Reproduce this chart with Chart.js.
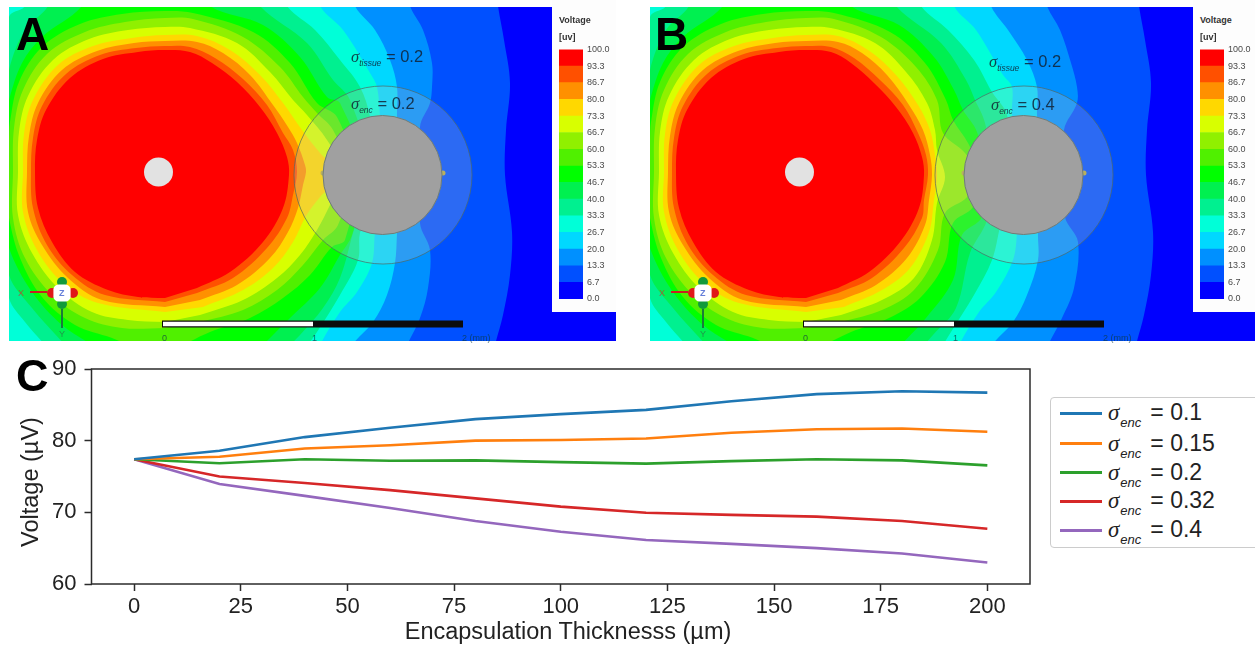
<!DOCTYPE html>
<html>
<head>
<meta charset="utf-8">
<title>Voltage</title>
<script src="https://cdn.jsdelivr.net/npm/chart.js@4/dist/chart.umd.js"></script>
<style>
  html, body { margin: 0; padding: 0; background: #fff; overflow: hidden; }
  body { width: 1255px; height: 647px; position: relative; font-family: "Liberation Sans", Arial, sans-serif; }
  canvas { position: absolute; display: block; }
  .map { background: #0000ff; filter: blur(0.5px); }
  .t { position: absolute; white-space: nowrap; line-height: 1; }
  .letter { font-weight: bold; font-size: 46px; color: #000; }
  .box { position: absolute; background: #fdfdfd; }
  .cond { font-size: 16.5px; color: #123; opacity: .85; }
  .cond i, .leg i { font-family: "Liberation Serif", serif; }
  .cond sub { font-size: 8.5px; font-style: italic; vertical-align: -4px; }
  .cb { font-size: 9px; font-weight: bold; color: #333; }
  .sb { font-size: 9px; color: #0b3b45; opacity: .75; }
  .legend-box { position: absolute; left: 1050px; top: 397px; width: 230px; height: 151px; box-sizing: border-box; border: 1px solid #ccc; border-radius: 4px; }
  .swatch { position: absolute; left: 1060px; width: 42px; height: 3px; }
  .leg { font-size: 23px; color: #222; }
  .leg sub { font-size: 13px; font-style: italic; vertical-align: -7px; margin-left: 1px; margin-right: 9px; }
  .axis-title { font-size: 23.5px; color: #222; }
</style>
</head>
<body>
<canvas id="mapA" class="map" width="607" height="334" style="left:9px;top:7px"></canvas>
<canvas id="mapB" class="map" width="605" height="334" style="left:650px;top:7px"></canvas>

<div class="box" style="left:552px;top:0;width:64px;height:312px"></div>
<div class="box" style="left:1193px;top:0;width:62px;height:312px"></div>
<canvas id="barA" width="64" height="270" style="left:552px;top:40px"></canvas>
<canvas id="barB" width="62" height="270" style="left:1193px;top:40px"></canvas>
<canvas id="lines" width="1040" height="297" style="left:0;top:350px"></canvas>

<div class="t letter" style="left:16px;top:11px">A</div>
<div class="t letter" style="left:655px;top:11px">B</div>
<div class="t letter" style="left:16px;top:353px;font-size:45px">C</div>

<div class="t cond" style="left:351px;top:48px"><i>σ</i><sub>tissue</sub> = 0.2</div>
<div class="t cond" style="left:351px;top:95px"><i>σ</i><sub>enc</sub> = 0.2</div>
<div class="t cond" style="left:989px;top:53px"><i>σ</i><sub>tissue</sub> = 0.2</div>
<div class="t cond" style="left:991px;top:96px"><i>σ</i><sub>enc</sub> = 0.4</div>

<div class="t cb" style="left:559px;top:16px">Voltage</div>
<div class="t cb" style="left:559px;top:33px">[uv]</div>
<div class="t cb" style="left:1200px;top:16px">Voltage</div>
<div class="t cb" style="left:1200px;top:33px">[uv]</div>

<div class="t sb" style="left:162px;top:334px">0</div>
<div class="t sb" style="left:312px;top:334px">1</div>
<div class="t sb" style="left:462px;top:334px">2 (mm)</div>
<div class="t sb" style="left:803px;top:334px">0</div>
<div class="t sb" style="left:953px;top:334px">1</div>
<div class="t sb" style="left:1103px;top:334px">2 (mm)</div>

<div class="t sb" style="left:18px;top:289px;color:#c33">X</div>
<div class="t sb" style="left:59px;top:289px;color:#3355cc;font-weight:bold">Z</div>
<div class="t sb" style="left:59px;top:330px;color:#2a7a4a">Y</div>
<div class="t sb" style="left:659px;top:289px;color:#c33">X</div>
<div class="t sb" style="left:700px;top:289px;color:#3355cc;font-weight:bold">Z</div>
<div class="t sb" style="left:700px;top:330px;color:#2a7a4a">Y</div>

<div class="t axis-title" style="left:568px;top:620px;transform:translateX(-50%)">Encapsulation Thicknesss (µm)</div>
<div class="t axis-title" style="left:31px;top:482px;transform:translate(-50%,-50%) rotate(-90deg)">Voltage (µV)</div>

<div class="legend-box"></div>
<div id="legend"></div>

<script>
// line plot values
const thickness = [0, 20, 40, 60, 80, 100, 120, 140, 160, 180, 200];
const enc01 = [77.4, 78.6, 80.5, 81.8, 83.0, 83.7, 84.3, 85.5, 86.5, 86.9, 86.7];
const enc015 = [77.4, 77.75, 78.9, 79.35, 80.0, 80.1, 80.3, 81.1, 81.6, 81.7, 81.25];
const enc02 = [77.4, 76.85, 77.4, 77.2, 77.25, 77.0, 76.8, 77.15, 77.4, 77.25, 76.55];
const enc032 = [77.4, 75.0, 74.1, 73.1, 71.95, 70.8, 69.95, 69.65, 69.4, 68.8, 67.7];
const enc04 = [77.4, 73.95, 72.3, 70.6, 68.8, 67.3, 66.15, 65.6, 65.0, 64.25, 63.0];
const encLabels = ['0.1', '0.15', '0.2', '0.32', '0.4'];
const xTicks = [0, 25, 50, 75, 100, 125, 150, 175, 200];
const yTicks = [60, 70, 80, 90];

// colour bar
const levels = [0, 6.7, 13.3, 20, 26.7, 33.3, 40, 46.7, 53.3, 60, 66.7, 73.3, 80, 86.7, 93.3, 100];
const levelColors = ['#0000ff', '#0050ff', '#0090ff', '#00d8ff', '#00ffd8', '#00f090', '#00f050', '#00ff00',
  '#50f000', '#90f000', '#d8ff00', '#ffd800', '#ff9000', '#ff5000', '#ff0000'];

// contour lines of the voltage field, left part is shared by both maps
const left93 = [[165,298],[138,297],[108,290],[75,272],[52,242],[38,208],[35,172],[37,140],[46,110],[70,78],[103,59],[138,52],[165,50]];
const left87 = [[165,302],[105,295],[72,275],[47,245],[33,208],[31,172],[33,138],[42,106],[66,74],[100,55],[136,48],[165,46]];
const left80 = [[165,307],[102,300],[68,278],[42,245],[28,212],[27,172],[29,136],[38,103],[62,70],[97,51],[134,43],[165,41]];
const left73 = [[165,312],[98,303],[63,283],[37,250],[23,212],[23,172],[24,134],[33,100],[58,65],[93,46],[132,38],[165,35]];
const left67 = [[165,322],[128,320],[92,312],[58,288],[32,253],[18,215],[18,172],[19,132],[28,96],[53,60],[89,39],[128,30],[165,27]];
const left60 = [[165,328],[122,328],[85,318],[52,295],[25,258],[13,218],[13,172],[14,128],[23,90],[47,54],[85,32],[125,22],[165,18]];
const left53 = [[128,345],[112,338],[75,325],[42,297],[20,258],[9,218],[6,190],[8,172],[9,140],[10,122],[19,82],[42,47],[80,24],[122,14],[165,11]];
const left47 = [[92,345],[62,325],[32,292],[9,248],[-10,172],[9,100],[22,63],[42,37],[82,6],[85,-15]];
const left40 = [[65,345],[32,308],[9,275],[-10,172],[9,70],[25,30],[48,6],[50,-15]];
const left33 = [[45,345],[25,322],[9,298],[-15,172],[9,17],[25,6],[27,-15]];
const leftFar = [[-20,360],[-20,-20]];

const rightA93 = [[190,52],[212,63],[237,82],[260,107],[277,133],[287,157],[289,175],[283,208],[263,242],[230,272],[197,288]];
const rightA87 = [[190,47],[215,58],[243,79],[267,105],[283,133],[293,150],[297,172],[293,195],[287,218],[267,248],[233,278],[197,293]];
const rightA80 = [[197,42],[223,53],[250,75],[273,105],[288,127],[297,143],[305,165],[306,172],[303,185],[298,208],[288,232],[270,258],[237,285],[200,300]];
const rightA73 = [[197,36],[230,50],[260,75],[283,103],[302,130],[320,153],[340,175],[320,197],[306,216],[293,242],[273,268],[243,290],[203,307]];
const rightA67 = [[190,28],[237,43],[270,72],[293,100],[307,115],[327,140],[345,175],[330,205],[317,230],[300,255],[277,278],[243,300],[200,315]];
const rightA60 = [[193,19],[243,37],[280,67],[303,97],[317,113],[333,130],[350,175],[338,225],[323,240],[303,265],[277,290],[243,310],[200,322]];
const rightA53 = [[193,13],[253,32],[290,63],[317,103],[337,117],[355,175],[345,240],[332,247],[310,275],[283,298],[250,318],[210,332],[183,345]];
const rightA47 = [[205,-15],[210,6],[263,25],[300,57],[327,97],[340,103],[365,175],[352,235],[340,255],[320,288],[290,318],[263,345]];
const rightA40 = [[255,-15],[260,6],[307,43],[333,80],[350,100],[370,175],[353,233],[340,278],[323,308],[300,335],[290,345]];
const rightA33 = [[282,-15],[287,6],[315,30],[340,60],[360,87],[370,117],[378,175],[360,233],[358,260],[340,295],[317,332],[308,345]];
const rightA27 = [[315,-20],[320,6],[343,30],[370,73],[377,87],[380,117],[385,175],[375,233],[372,263],[357,292],[340,312],[320,345],[315,360]];
const rightA20 = [[350,-20],[355,6],[375,30],[390,60],[397,87],[397,117],[400,175],[397,233],[395,263],[387,295],[373,322],[352,345],[345,360]];
const rightA13 = [[405,-20],[410,6],[423,30],[432,63],[432,87],[430,103],[420,127],[425,175],[420,223],[430,250],[428,288],[420,318],[407,345],[400,360]];
const rightAll7 = [[495,-20],[498,6],[504,40],[510,83],[506,130],[505,175],[512,232],[510,275],[503,315],[495,345],[492,360]];

const rightB93 = [[190,52],[210,63],[233,83],[255,107],[272,133],[281,157],[283,175],[278,208],[259,242],[228,272],[197,288]];
const rightB87 = [[190,47],[213,58],[239,80],[262,105],[277,133],[285,155],[287,175],[283,200],[281,218],[263,248],[231,278],[197,293]];
const rightB80 = [[197,42],[221,53],[246,75],[268,105],[282,130],[289,155],[291,175],[288,200],[284,225],[266,258],[235,285],[200,300]];
const rightB73 = [[197,36],[227,50],[255,75],[277,105],[289,130],[294,155],[296,177],[293,200],[288,232],[269,268],[241,290],[203,307]];
const rightB67 = [[190,28],[234,43],[265,72],[286,103],[294,130],[296,150],[304,177],[296,203],[291,240],[273,278],[241,300],[200,315]];
const rightB60 = [[193,19],[240,37],[275,67],[296,100],[302,133],[324,153],[335,175],[326,197],[304,213],[297,250],[273,290],[241,310],[200,322]];
const rightB53 = [[193,13],[249,32],[284,63],[305,100],[312,120],[327,143],[340,175],[332,207],[312,223],[304,262],[279,298],[248,318],[210,332],[183,345]];
const rightB47 = [[205,-15],[210,6],[258,25],[293,57],[313,90],[322,110],[336,132],[345,175],[341,217],[321,235],[312,280],[285,318],[260,345]];
const rightB40 = [[250,-15],[255,6],[300,43],[325,80],[334,100],[344,123],[352,175],[346,220],[329,253],[315,308],[292,335],[283,345]];
const rightB33 = [[275,-15],[280,6],[307,30],[333,60],[351,92],[366,115],[372,175],[359,227],[351,260],[333,295],[310,332],[302,345]];
const rightB27 = [[310,-20],[313,6],[335,30],[362,75],[371,87],[371,115],[380,175],[376,233],[372,260],[355,292],[338,312],[318,345],[313,360]];
const rightB20 = [[345,-20],[350,6],[367,30],[386,60],[396,87],[396,115],[400,175],[397,233],[397,260],[386,295],[372,322],[351,345],[345,360]];
const rightB13 = [[400,-20],[406,6],[419,30],[430,63],[436,87],[436,103],[423,130],[425,175],[424,217],[437,242],[433,288],[421,318],[407,345],[400,360]];

// innermost first, so the colours line up with levelColors from the top
const leftParts = [left93, left87, left80, left73, left67, left60, left53, left47, left40, left33, leftFar, leftFar, leftFar, leftFar];
const rightPartsA = [rightA93, rightA87, rightA80, rightA73, rightA67, rightA60, rightA53, rightA47, rightA40, rightA33, rightA27, rightA20, rightA13, rightAll7];
const rightPartsB = [rightB93, rightB87, rightB80, rightB73, rightB67, rightB60, rightB53, rightB47, rightB40, rightB33, rightB27, rightB20, rightB13, rightAll7];

// things sitting on top of the field
const electrode = [[158.5, 172]];
const implant = [[382.5, 175]];
const capsule = [[383, 175]];
const implantTips = [[323, 173], [443, 173]];
const scaleWhole = [[162, 324], [463, 324]];
const scaleFirst = [[163, 324], [313, 324]];
const triadBox = [[62, 293]];
const triadRed = [[52, 293], [73, 293]];
const triadGreen = [[62, 282], [62, 304]];
const arrowX = [[30, 292], [47, 292]];
const arrowY = [[62, 309], [62, 328]];

const pts = arr => arr.map(p => ({ x: p[0], y: p[1] }));

function band(left, right, color) {
    return {
        data: pts(left.concat(right)),
        showLine: true,
        fill: 'shape',
        backgroundColor: color,
        borderWidth: 0,
        pointRadius: 0,
        tension: 0.35
    };
}

function dot(points, radius, color, edge, style) {
    return {
        data: pts(points),
        showLine: false,
        clip: false,
        pointRadius: radius,
        pointStyle: style || 'circle',
        pointBackgroundColor: color,
        pointBorderColor: edge || color,
        pointBorderWidth: edge ? 1 : 0
    };
}

function stroke(points, width, color) {
    return { data: pts(points), showLine: true, borderColor: color, borderWidth: width, pointRadius: 0, fill: false };
}

function drawMap(id, rightParts, xMax) {
    const bands = rightParts.map((right, i) => band(leftParts[i], right, levelColors[14 - i]));
    new Chart(document.getElementById(id), {
        type: 'scatter',
        data: {
            datasets: [
                stroke(scaleFirst, 4.5, '#ffffff'),
                stroke(scaleWhole, 7, '#0c0c0c'),
                dot(triadBox, 10, '#ffffff', null, 'rectRounded'),
                dot(triadRed, 5, '#e01818'),
                dot(triadGreen, 5, '#129a3a'),
                stroke(arrowX, 2, '#c82020'),
                stroke(arrowY, 2, '#1b7a3a'),
                dot(electrode, 14.5, '#e2e2e2'),
                dot(implant, 59.5, '#a0a0a0', '#6f7d78'),
                dot(implantTips, 2.5, '#b8b060'),
                dot(capsule, 89, 'rgba(200,200,200,0.22)', 'rgba(80,105,100,0.7)')
            ].concat(bands)
        },
        options: {
            responsive: false,
            animation: false,
            devicePixelRatio: 1,
            layout: { padding: 0, autoPadding: false },
            plugins: { legend: { display: false }, tooltip: { enabled: false } },
            scales: {
                x: { type: 'linear', display: false, min: 9, max: xMax },
                y: { type: 'linear', display: false, min: 7, max: 341, reverse: true }
            }
        }
    });
}

function drawBar(id) {
    const bandSets = levelColors.map((c, i) => ({
        data: [[levels[i], levels[i + 1]]],
        backgroundColor: c,
        borderWidth: 0,
        borderSkipped: false,
        barPercentage: 1,
        categoryPercentage: 1
    }));
    new Chart(document.getElementById(id), {
        type: 'bar',
        data: { labels: ['Voltage'], datasets: bandSets },
        options: {
            responsive: false,
            animation: false,
            devicePixelRatio: 1,
            layout: { padding: { left: 7, top: 9, bottom: 11, right: 0 } },
            plugins: { legend: { display: false }, tooltip: { enabled: false } },
            scales: {
                x: { display: false, stacked: true },
                y: {
                    position: 'right',
                    min: 0,
                    max: 100,
                    grid: { display: false, drawTicks: false },
                    border: { display: false },
                    afterFit: s => { s.width = s.chart.width - 31; },
                    afterBuildTicks: s => { s.ticks = levels.map(v => ({ value: v })); },
                    ticks: {
                        autoSkip: false,
                        padding: 4,
                        color: '#4a4a4a',
                        font: { family: 'Liberation Sans', size: 9 },
                        callback: v => v.toFixed(1)
                    }
                }
            }
        }
    });
}

drawMap('mapA', rightPartsA, 616);
drawMap('mapB', rightPartsB, 614);
drawBar('barA');
drawBar('barB');

// the line plot
const lineColors = ['#1f77b4', '#ff7f0e', '#2ca02c', '#d62728', '#9467bd'];
const lineValues = [enc01, enc015, enc02, enc032, enc04];

const frame = {
    id: 'frame',
    afterDraw(chart) {
        const a = chart.chartArea, ctx = chart.ctx;
        ctx.save();
        ctx.strokeStyle = '#2b2b2b';
        ctx.lineWidth = 1.5;
        ctx.strokeRect(a.left, a.top, a.right - a.left, a.bottom - a.top);
        ctx.restore();
    }
};

const axisFont = { family: 'Liberation Sans', size: 22 };

new Chart(document.getElementById('lines'), {
    type: 'line',
    data: {
        datasets: lineValues.map((vals, i) => ({
            label: 'σenc = ' + encLabels[i],
            data: thickness.map((t, j) => ({ x: t, y: vals[j] })),
            borderColor: lineColors[i],
            borderWidth: 2.6,
            pointRadius: 0,
            tension: 0,
            fill: false
        }))
    },
    options: {
        responsive: false,
        animation: false,
        devicePixelRatio: 1,
        layout: { padding: { left: 0, top: 19, right: 10, bottom: 0 }, autoPadding: false },
        plugins: { legend: { display: false }, tooltip: { enabled: false } },
        scales: {
            x: {
                type: 'linear',
                min: -10,
                max: 210,
                afterBuildTicks: s => { s.ticks = xTicks.map(v => ({ value: v })); },
                afterFit: s => { s.height = 63; s.paddingLeft = 0; s.paddingRight = 0; },
                grid: { drawOnChartArea: false, tickLength: 7, tickColor: '#2b2b2b', tickWidth: 1.5 },
                border: { display: false },
                ticks: { color: '#222', font: axisFont, padding: 3, maxRotation: 0, autoSkip: false }
            },
            y: {
                min: 60,
                max: 90,
                afterBuildTicks: s => { s.ticks = yTicks.map(v => ({ value: v })); },
                afterFit: s => { s.width = 91.5; s.paddingTop = 0; s.paddingBottom = 0; },
                grid: { drawOnChartArea: false, tickLength: 7, tickColor: '#2b2b2b', tickWidth: 1.5 },
                border: { display: false },
                ticks: { color: '#222', font: axisFont, padding: 8 }
            }
        }
    },
    plugins: [frame]
});

// legend needs subscripts so it is plain html, built from the same lists
const legendRows = [413, 443.5, 472.5, 501, 530];
document.getElementById('legend').innerHTML = encLabels.map((lab, i) =>
    '<div class="swatch" style="top:' + (legendRows[i] - 1.5) + 'px;background:' + lineColors[i] + '"></div>' +
    '<div class="t leg" style="left:1108px;top:' + (legendRows[i] - 12) + 'px"><i>σ</i><sub>enc</sub>= ' + lab + '</div>'
).join('');
</script>
</body>
</html>
